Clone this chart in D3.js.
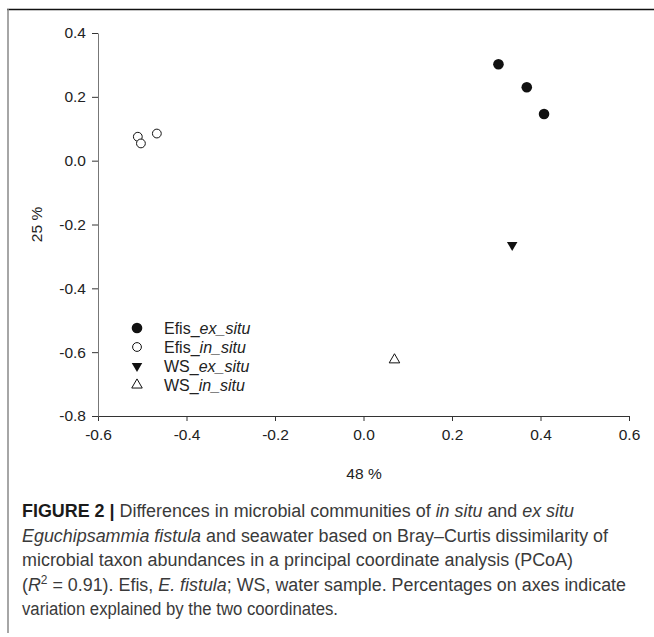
<!DOCTYPE html>
<html>
<head>
<meta charset="utf-8">
<script src="https://cdn.jsdelivr.net/npm/d3@7"></script>
<style>
  body { margin: 0; background: #fff; }
  svg { display: block; }
  .tick text { font-family: "Liberation Sans", Arial, sans-serif; font-size: 15.5px; fill: #222; }
  .caption { font-family: "Liberation Sans", Arial, sans-serif; font-size: 18px; fill: #3a3a3a; }
</style>
</head>
<body>
<svg id="chart"></svg>
<script>
// PCoA coordinates
var efisExX = [0.305, 0.369, 0.408];
var efisExY = [0.302, 0.230, 0.146];
var efisInX = [-0.510, -0.503, -0.467];
var efisInY = [0.075, 0.054, 0.085];
var wsExX = [0.336];
var wsExY = [-0.264];
var wsInX = [0.070];
var wsInY = [-0.624];

var xTicks = [-0.6, -0.4, -0.2, 0.0, 0.2, 0.4, 0.6];
var yTicks = [-0.8, -0.6, -0.4, -0.2, 0.0, 0.2, 0.4];

var seriesNames = [["Efis_", "ex_situ"], ["Efis_", "in_situ"], ["WS_", "ex_situ"], ["WS_", "in_situ"]];

var captionLines = [
    [["b", "FIGURE 2 | "], ["n", "Differences in microbial communities of "], ["i", "in situ"], ["n", " and "], ["i", "ex situ"]],
    [["i", "Eguchipsammia fistula"], ["n", " and seawater based on Bray\u2013Curtis dissimilarity of"]],
    [["n", "microbial taxon abundances in a principal coordinate analysis (PCoA)"]],
    [["n", "("], ["i", "R"], ["sup", "2"], ["down", " = 0.91). Efis, "], ["i", "E. fistula"], ["n", "; WS, water sample. Percentages on axes indicate"]],
    [["n", "variation explained by the two coordinates."]]
];
// approximate rendered width of each caption line
var captionWidths = [552, 586, 551, 604, 316];

var width = 654, height = 637;
var svg = d3.select("#chart").attr("width", width).attr("height", height);

// frame
svg.append("line").attr("x1", 7).attr("x2", width).attr("y1", 9.5).attr("y2", 9.5)
    .attr("stroke", "#111").attr("stroke-width", 1.5);
svg.append("line").attr("x1", 8).attr("x2", 8).attr("y1", 9).attr("y2", 633)
    .attr("stroke", "#888").attr("stroke-width", 1.5);

var xScale = d3.scaleLinear().domain([-0.6, 0.6]).range([98, 629]);
var yScale = d3.scaleLinear().domain([-0.8, 0.4]).range([416, 33]);

// plain hyphen as minus, like the original
var fmt = d => d3.format(".1f")(d).replace("\u2212", "-");

svg.append("g")
    .attr("transform", "translate(0,416)")
    .call(d3.axisBottom(xScale).tickValues(xTicks).tickFormat(fmt).tickSize(5).tickPadding(8).tickSizeOuter(0))
    .call(g => g.select(".domain").attr("stroke", "#333"))
    .call(g => g.selectAll(".tick line").attr("stroke", "#333"));

svg.append("g")
    .attr("transform", "translate(98,0)")
    .call(d3.axisLeft(yScale).tickValues(yTicks).tickFormat(fmt).tickSize(6).tickPadding(6).tickSizeOuter(0))
    .call(g => g.select(".domain").attr("stroke", "#777"))
    .call(g => g.selectAll(".tick line").attr("stroke", "#333"));

// axis titles
svg.append("text").attr("x", 364).attr("y", 479).attr("text-anchor", "middle")
    .style("font-family", "Liberation Sans, Arial, sans-serif").style("font-size", "15.5px").attr("fill", "#222")
    .text("48 %");
svg.append("text").attr("transform", "translate(42,224.5) rotate(-90)").attr("text-anchor", "middle")
    .style("font-family", "Liberation Sans, Arial, sans-serif").style("font-size", "15.5px").attr("fill", "#222")
    .text("25 %");

// symbols
var sym = {
    filledCircle: d3.symbol().type(d3.symbolCircle).size(Math.PI * 5.3 * 5.3),
    openCircle: d3.symbol().type(d3.symbolCircle).size(Math.PI * 4.4 * 4.4),
    triangle: d3.symbol().type(d3.symbolTriangle).size(48)
};
var styles = [
    { path: sym.filledCircle(), fill: "#111", stroke: "none", rot: 0 },
    { path: sym.openCircle(), fill: "#fff", stroke: "#111", rot: 0 },
    { path: sym.triangle(), fill: "#111", stroke: "none", rot: 180 },
    { path: sym.triangle(), fill: "#fff", stroke: "#111", rot: 0 }
];

var series = [
    d3.zip(efisExX, efisExY),
    d3.zip(efisInX, efisInY),
    d3.zip(wsExX, wsExY),
    d3.zip(wsInX, wsInY)
];

series.forEach(function (pts, i) {
    var st = styles[i];
    svg.append("g").selectAll("path")
        .data(pts)
        .join("path")
        .attr("d", st.path)
        .attr("transform", d => "translate(" + xScale(d[0]) + "," + yScale(d[1]) + ") rotate(" + st.rot + ")")
        .attr("fill", st.fill)
        .attr("stroke", st.stroke)
        .attr("stroke-width", 1);
});

// legend
var legend = svg.append("g");
seriesNames.forEach(function (nm, i) {
    var st = styles[i];
    var y = 328 + i * 19;
    legend.append("path")
        .attr("d", st.path)
        .attr("transform", "translate(137," + y + ") rotate(" + st.rot + ")")
        .attr("fill", st.fill).attr("stroke", st.stroke).attr("stroke-width", 1);
    var t = legend.append("text").attr("x", 164).attr("y", y + 5.5)
        .style("font-family", "Liberation Sans, Arial, sans-serif").style("font-size", "16px").attr("fill", "#222");
    t.append("tspan").text(nm[0]);
    t.append("tspan").style("font-style", "italic").text(nm[1]);
});

// caption
captionLines.forEach(function (line, i) {
    var t = svg.append("text").attr("class", "caption").attr("x", 22).attr("y", 517 + i * 24.5)
        .attr("textLength", captionWidths[i]).attr("lengthAdjust", "spacingAndGlyphs");
    line.forEach(function (part) {
        var s = t.append("tspan").text(part[1]);
        if (part[0] === "b") s.style("font-weight", "bold").attr("fill", "#1a1a1a");
        if (part[0] === "i") s.style("font-style", "italic");
        if (part[0] === "sup") s.attr("dy", -7).style("font-size", "12px");
        if (part[0] === "down") s.attr("dy", 7);
    });
});
</script>
</body>
</html>
